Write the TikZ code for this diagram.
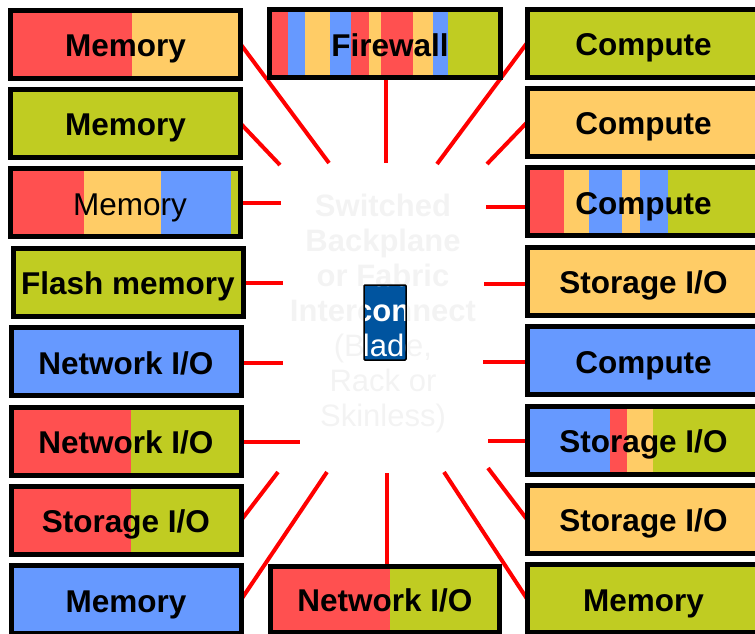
\documentclass[tikz,border=0pt]{standalone}
\usepackage{fontspec}
\setmainfont{Liberation Sans}
\usetikzlibrary{positioning,backgrounds}
\definecolor{cred}{RGB}{255,80,80}
\definecolor{corange}{RGB}{255,204,102}
\definecolor{cblue}{RGB}{102,153,255}
\definecolor{cgreen}{RGB}{192,204,34}
\definecolor{cnavy}{RGB}{0,84,159}
\definecolor{chub}{RGB}{243,243,243}
\newcommand{\fabrictext}{\textbf{Switched}\\\textbf{Backplane}\\\textbf{or Fabric}\\\textbf{Interconnect}\\(Blade,\\Rack or\\Skinless)}

\begin{document}
\begin{tikzpicture}[x=1pt,y=-1pt,node distance=79.4pt,
        box/.style={draw=black,line width=5pt,minimum width=230pt,minimum height=68pt,inner sep=0pt,outer sep=0pt,text height=25pt,text depth=0pt,font=\fontsize{31.5}{35}\selectfont\bfseries},
        rbox/.style={box,minimum width=233pt},
        link/.style={red,line width=4pt},
        hub/.style={align=center,inner sep=0pt,font=\fontsize{31}{35}\selectfont},
        blade/.style={fill=cnavy,minimum width=42pt,minimum height=75pt,inner sep=0pt,outer sep=0pt}]
            \useasboundingbox (0,0) rectangle (755,633);
            \clip (0,0) rectangle (755,633);

            \node[box] (L1) at (125.5,44) {Memory};
            \node[box,fill=cgreen] (L2) [below of = L1] {Memory};
            \node[box] (L3) [below of = L2] {\mdseries\hspace*{9pt}Memory};
            \node[box,fill=cgreen] (L4) [below of = L3, xshift=2.5pt] {Flash memory};
            \node[box,fill=cblue] (L5) [below of = L4, xshift=-2pt] {Network I/O};
            \node[box] (L6) [below of = L5] {Network I/O};
            \node[box] (L7) [below of = L6] {Storage I/O};
            \node[box,fill=cblue] (L8) [below of = L7] {Memory};

            \node[rbox,fill=cgreen] (R1) at (643.5,43) {Compute};
            \node[rbox,fill=corange] (R2) [below of = R1] {Compute};
            \node[rbox] (R3) [below of = R2] {Compute};
            \node[rbox,fill=corange] (R4) [below of = R3] {Storage I/O};
            \node[rbox,fill=cblue] (R5) [below of = R4] {Compute};
            \node[rbox] (R6) [below of = R5] {Storage I/O};
            \node[rbox,fill=corange] (R7) [below of = R6] {Storage I/O};
            \node[rbox,fill=cgreen] (R8) [below of = R7] {Memory};

            \node[box,minimum width=231pt] (FW) at (385,43.5) {\hspace*{10pt}Firewall};
            \node[box,minimum width=229pt,minimum height=66pt] (NW) at (385,599) {Network I/O};

            \coordinate (iL1) at (329,163);
            \coordinate (iL2) at (280,165);
            \coordinate (iL3) at (281,203);
            \coordinate (iL4) at (283,283);
            \coordinate (iL5) at (283,363);
            \coordinate (iL6) at (300,442);
            \coordinate (iL7) at (278,472);
            \coordinate (iL8) at (327,472);
            \coordinate (iFW) at (386,163);
            \coordinate (iR1) at (437,164);
            \coordinate (iR2) at (487,164);
            \coordinate (iR3) at (486,207);
            \coordinate (iR4) at (484,284);
            \coordinate (iR5) at (483,362);
            \coordinate (iR6) at (488,441);
            \coordinate (iR7) at (488,468);
            \coordinate (iR8) at (444,472);
            \coordinate (iNW) at (387,473);

            \begin{scope}[on background layer]
                \draw[link] (L1.east) -- (iL1);
                \draw[link] (L2.east) -- (iL2);
                \draw[link] (iL3 -| L3.east) -- (iL3);
                \draw[link] (iL4 -| L4.east) -- (iL4);
                \draw[link] (iL5 -| L5.east) -- (iL5);
                \draw[link] (iL6 -| L6.east) -- (iL6);
                \draw[link] (L7.east) -- (iL7);
                \draw[link] (L8.east) -- (iL8);
                \draw[link] (iFW |- FW.south) -- (iFW);
                \draw[link] (R1.west) -- (iR1);
                \draw[link] (R2.west) -- (iR2);
                \draw[link] (iR3 -| R3.west) -- (iR3);
                \draw[link] (iR4 -| R4.west) -- (iR4);
                \draw[link] (iR5 -| R5.west) -- (iR5);
                \draw[link] (iR6 -| R6.west) -- (iR6);
                \draw[link] (R7.west) -- (iR7);
                \draw[link] (R8.west) -- (iR8);
                \draw[link] (iNW |- NW.north) -- (iNW);

                \foreach \a/\b/\c in {0/121.5/cred,121.5/230/corange}
                    \fill[\c] ([xshift=\a pt]L1.south west) rectangle ([xshift=\b pt]L1.north west);
                \foreach \a/\b/\c in {0/73.5/cred,73.5/150.5/corange,150.5/220.5/cblue,220.5/230/cgreen}
                    \fill[\c] ([xshift=\a pt]L3.south west) rectangle ([xshift=\b pt]L3.north west);
                \foreach \n in {L6,L7}
                    \foreach \a/\b/\c in {0/119.5/cred,119.5/230/cgreen}
                        \fill[\c] ([xshift=\a pt]\n.south west) rectangle ([xshift=\b pt]\n.north west);
                \foreach \a/\b/\c in {0/37/cred,37/62/corange,62/95/cblue,95/113/corange,113/141/cblue,141/233/cgreen}
                    \fill[\c] ([xshift=\a pt]R3.south west) rectangle ([xshift=\b pt]R3.north west);
                \foreach \a/\b/\c in {0/83/cblue,83/100/cred,100/126/corange,126/233/cgreen}
                    \fill[\c] ([xshift=\a pt]R6.south west) rectangle ([xshift=\b pt]R6.north west);
                \foreach \a/\b/\c in {0/18.5/cred,18.5/35.5/cblue,35.5/60.5/corange,60.5/81.5/cblue,81.5/99.5/cred,99.5/111.5/corange,111.5/143.5/cred,143.5/163.5/corange,163.5/178.5/cblue,178.5/231/cgreen}
                    \fill[\c] ([xshift=\a pt]FW.south west) rectangle ([xshift=\b pt]FW.north west);
                \foreach \a/\b/\c in {0/119.5/cred,119.5/229/cgreen}
                    \fill[\c] ([xshift=\a pt]NW.south west) rectangle ([xshift=\b pt]NW.north west);
            \end{scope}

            \node[hub,text=chub] (fabric) at (383,313) {\fabrictext};
            \node[blade] (bladebox) at (385,322.5) {};
            \begin{scope}
                \clip (bladebox.south west) rectangle (bladebox.north east);
                \node[hub,text=white] (fabricwhite) at (381,313) {\fabrictext};
            \end{scope}
            \draw[line width=1.5pt,rounded corners=1pt] (bladebox.south west) rectangle (bladebox.north east);
\end{tikzpicture}
\end{document}
